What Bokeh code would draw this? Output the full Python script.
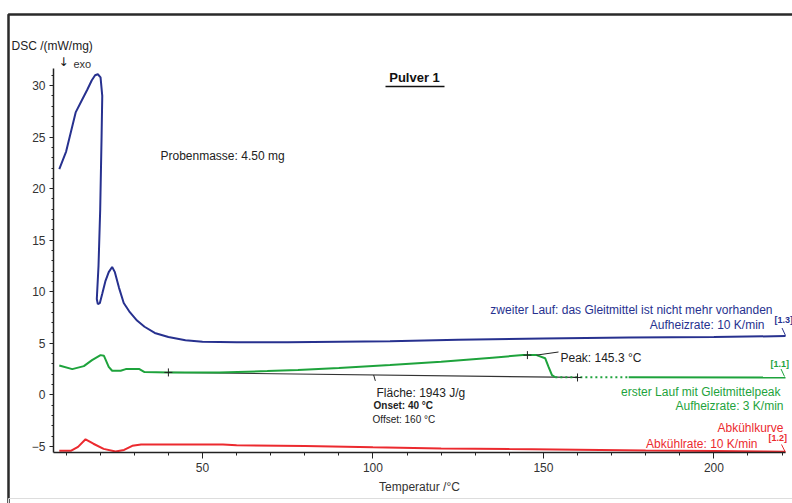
from bokeh.plotting import figure
from bokeh.models import Label, BoxAnnotation, Range1d, FixedTicker
from bokeh.embed import file_html
from bokeh.resources import INLINE

# --- DSC data (temperature in °C, DSC signal in mW/mg) ---
# second heating run, 10 K/min
blue_T = [8.0, 10.0, 12.8, 14.5, 16.2, 17.5, 18.5, 19.3, 20.1, 20.6, 20.4, 20.0, 19.5,
          19.0, 19.3, 19.9, 20.6, 21.5, 22.5, 23.5, 24.3, 25.5, 26.9, 28.5, 30.8,
          33.0, 36.0, 40.0, 45.0, 50.0, 60.0, 75.0, 90.0, 105.0, 125.0, 150.0,
          175.0, 200.0, 221.0]
blue_dsc = [21.9, 23.6, 27.4, 28.5, 29.6, 30.5, 31.0, 31.1, 30.8, 29.0, 25.0, 18.0, 12.5,
            9.3, 8.8, 8.9, 9.8, 11.0, 11.9, 12.4, 11.9, 10.4, 8.9, 8.1, 7.2,
            6.6, 6.0, 5.6, 5.3, 5.15, 5.1, 5.1, 5.15, 5.2, 5.35, 5.45,
            5.55, 5.6, 5.7]

# first heating run with lubricant peak, 3 K/min
green_T = [8.0, 11.8, 15.2, 17.6, 20.1, 21.1, 22.5, 23.5, 26.0, 27.5, 31.5, 33.0,
           40.0, 55.0, 69.0, 78.0, 90.0, 105.0, 120.0, 135.0, 144.0, 148.0, 150.5,
           151.5, 152.5, 153.5, 175.0, 221.0]
green_dsc = [2.85, 2.49, 2.78, 3.36, 3.85, 3.78, 2.71, 2.33, 2.33, 2.49, 2.49, 2.2,
             2.17, 2.17, 2.3, 2.4, 2.6, 2.88, 3.2, 3.6, 3.85, 3.85, 3.55,
             2.7, 1.9, 1.7, 1.69, 1.68]

# cooling curve, 10 K/min
red_T = [8.0, 11.5, 13.5, 15.7, 18.0, 21.0, 24.5, 27.0, 29.4, 32.0, 56.0, 60.0,
         80.0, 100.0, 120.0, 140.0, 160.0, 180.0, 200.0, 215.0, 221.0]
red_dsc = [-5.42, -5.42, -5.05, -4.32, -4.75, -5.25, -5.5, -5.35, -4.95, -4.82,
           -4.82, -4.9, -4.97, -5.1, -5.2, -5.27, -5.33, -5.4, -5.45, -5.5, -5.52]

# peak evaluation of the first run
base_T = [40.0, 160.0]          # onset / offset
base_dsc = [2.17, 1.68]
peak_T = 145.3
peak_dsc = 3.85

x_ticks = [50, 100, 150, 200]
x_minor = list(range(10, 221, 10))
y_ticks = [-5, 0, 5, 10, 15, 20, 25, 30]
y_minor = list(range(-5, 32))

# --- page geometry (pixels) ---
W, H = 792, 503
AX_L, AX_R, AX_T, AX_B = 53, 785, 68, 452     # extent of the two axis lines
X0, X1 = 6.3, 221.0                           # temperature span of the x axis
Y0, Y1 = -5.6, 31.66                          # DSC span of the y axis
SX = (AX_R - AX_L) / (X1 - X0)
SY = (AX_B - AX_T) / (Y1 - Y0)


def dx(px):
    return X0 + (px - AX_L) / SX


def dy(py):
    return Y1 - (py - AX_T) / SY


FONT = "Liberation Sans"
BLUE = "#27318f"
GREEN = "#1ea33c"
RED = "#ec2a2f"
INK = "#222222"

# the plot frame covers the whole page; the axes are pinned inside it
p = figure(width=W, height=H, x_range=Range1d(dx(0), dx(W)), y_range=Range1d(dy(H), dy(0)),
           output_backend="svg", toolbar_location=None,
           min_border_left=0, min_border_right=0, min_border_top=0, min_border_bottom=0)
p.title.visible = False
p.outline_line_color = None
p.grid.visible = False
p.background_fill_color = "white"
p.border_fill_color = "white"

p.xaxis.ticker = FixedTicker(ticks=x_ticks, minor_ticks=x_minor)
p.yaxis.ticker = FixedTicker(ticks=y_ticks, minor_ticks=y_minor)
p.xaxis.fixed_location = Y0
p.yaxis.fixed_location = X0
p.xaxis.bounds = (X0, X1)
p.yaxis.bounds = (Y0, Y1)
for ax in (p.xaxis, p.yaxis):
    ax.axis_line_color = "#222222"
    ax.axis_line_width = 1.5
    ax.major_tick_line_color = "#222222"
    ax.minor_tick_line_color = "#222222"
    ax.major_tick_in = 0
    ax.minor_tick_in = 0
    ax.major_label_text_font = FONT
    ax.major_label_text_font_size = "12px"
    ax.major_label_text_color = "#333333"
p.xaxis.major_tick_out = 6
p.xaxis.minor_tick_out = 3
p.yaxis.major_tick_out = 4
p.yaxis.minor_tick_out = 2
p.xaxis.major_label_standoff = 4
p.yaxis.major_label_standoff = 4
p.xaxis.axis_label = "Temperatur /°C"
p.xaxis.axis_label_text_font = FONT
p.xaxis.axis_label_text_font_size = "12px"
p.xaxis.axis_label_text_font_style = "normal"
p.xaxis.axis_label_text_color = "#333333"
p.xaxis.axis_label_standoff = 5

# page frame
p.add_layout(BoxAnnotation(left=dx(8), right=dx(830), top=dy(14), bottom=dy(560),
                           fill_alpha=0, line_color="#2a2a2a", line_alpha=1.0,
                           line_width=2.5))
p.add_layout(BoxAnnotation(left=dx(8), right=dx(830), top=dy(498), bottom=dy(560),
                           fill_alpha=0, line_color="#dddddd", line_alpha=1.0,
                           line_width=1))

# integration baseline
p.line(base_T, base_dsc, line_color="#333333", line_width=1.2)

# curves
p.line(blue_T, blue_dsc, line_color=BLUE, line_width=2)
p.line(red_T, red_dsc, line_color=RED, line_width=2)
i0 = green_T.index(153.5)
i1 = green_T.index(175.0)
p.line(green_T[:i0 + 1], green_dsc[:i0 + 1], line_color=GREEN, line_width=2)
p.line(green_T[i0:i1 + 1], green_dsc[i0:i1 + 1], line_color=GREEN, line_width=2,
       line_dash="2 3")
p.line(green_T[i1:], green_dsc[i1:], line_color=GREEN, line_width=2)

# onset, offset and peak markers
p.scatter(base_T + [peak_T], base_dsc + [peak_dsc], marker="cross", size=8,
          line_color="#222222", line_width=1)
# peak label connector and area pointer
p.segment(x0=[148.0, 100.2], y0=[peak_dsc, 1.92], x1=[dx(558), 100.7],
          y1=[dy(351.5), 1.35], line_color="#222222", line_width=1)
# curve tags
p.segment(x0=[dx(781.5), dx(780.5), dx(781)], y0=[dy(327.5), dy(368.5), dy(444)],
          x1=[dx(785), dx(784), dx(784.5)], y1=[dy(335), dy(376), dy(451)],
          line_color=[BLUE, GREEN, RED], line_width=1)
# title underline
p.segment(x0=[dx(385)], y0=[dy(86)], x1=[dx(444)], y1=[dy(86)],
          line_color="#111111", line_width=1.5)


def lab(text, px, py, align="left", size="12px", color=INK, style="normal",
        font=FONT):
    p.add_layout(Label(x=dx(px), y=dy(py), text=text, text_align=align,
                       text_baseline="middle", text_font=font,
                       text_font_size=size, text_color=color,
                       text_font_style=style))


lab("DSC /(mW/mg)", 11, 45)
lab("\u2193", 58, 61, size="12px", color="#111111", font="DejaVu Sans")
lab("exo", 73, 63, size="11px", color="#333333")
lab("Pulver 1", 414, 77, align="center", size="13px", color="#111111", style="bold")
lab("Probenmasse: 4.50 mg", 160, 155)

lab("zweiter Lauf: das Gleitmittel ist nicht mehr vorhanden", 772, 309,
    align="right", color=BLUE)
lab("Aufheizrate: 10 K/min", 764, 324, align="right", color=BLUE)
lab("[1.3]", 774, 319, size="9px", color=BLUE, style="bold")

lab("Peak: 145.3 \u00b0C", 560, 357)
lab("[1.1]", 770, 363, size="9px", color=GREEN, style="bold")
lab("erster Lauf mit Gleitmittelpeak", 780, 391, align="right", color=GREEN)
lab("Aufheizrate: 3 K/min", 783, 405, align="right", color=GREEN)

lab("Fl\u00e4che: 1943 J/g", 376, 392)
lab("Onset: 40 \u00b0C", 373, 405, size="10px", style="bold")
lab("Offset: 160 \u00b0C", 372, 419, size="10px")

lab("Abk\u00fchlkurve", 783, 427, align="right", color=RED)
lab("Abk\u00fchlrate: 10 K/min", 757, 443, align="right", color=RED)
lab("[1.2]", 768, 437, size="9px", color=RED, style="bold")

open("out.html", "w").write(file_html(p, INLINE))
